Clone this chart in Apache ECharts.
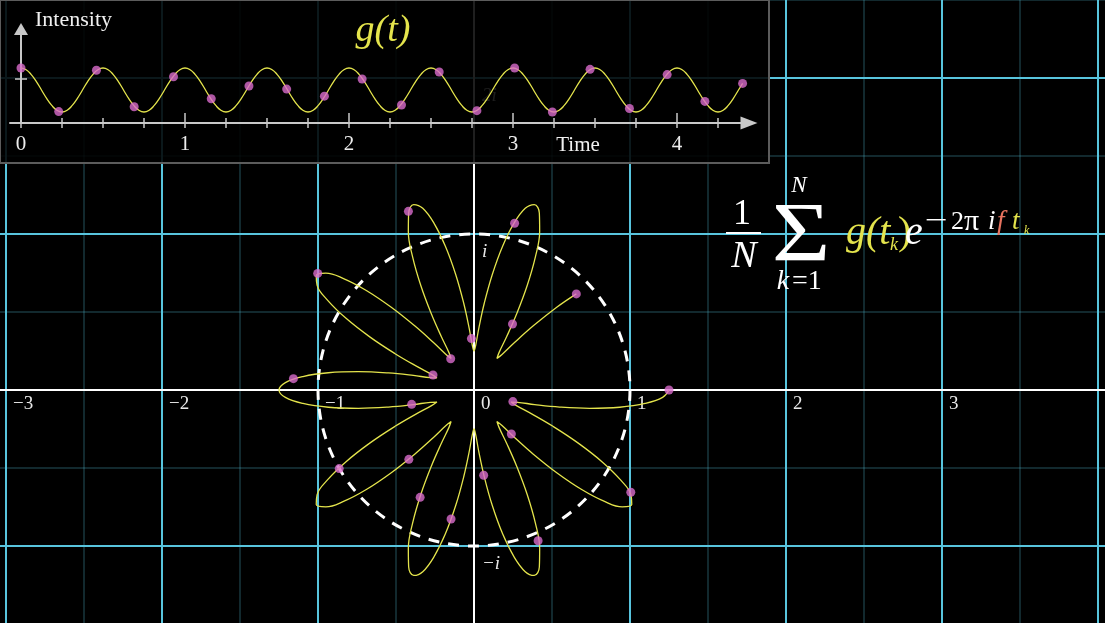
<!DOCTYPE html>
<html><head><meta charset="utf-8">
<script src="https://cdn.jsdelivr.net/npm/echarts@6.0.0/dist/echarts.min.js"></script>
<style>html,body{margin:0;padding:0;background:#000}#c{width:1105px;height:623px}</style>
</head><body><div id="c"></div><script>
// ---------- data ----------
// sample instants t_k (seconds) and sampled intensity g(t_k)
const sampleTimes  = [0, 0.23, 0.46, 0.69, 0.93, 1.16, 1.39, 1.62, 1.85, 2.08, 2.32, 2.55, 2.78, 3.01, 3.24, 3.47, 3.71, 3.94, 4.17, 4.40];
const sampleValues = [1.25, 0.26, 1.20, 0.37, 1.05, 0.55, 0.84, 0.77, 0.61, 1.00, 0.41, 1.16, 0.28, 1.25, 0.25, 1.22, 0.33, 1.10, 0.49, 0.90];
// points read along the continuous signal g(t)
const curveTimes = [
  0, 0.03125, 0.0625, 0.09375, 0.125, 0.15625, 0.1875, 0.21875, 0.25, 0.28125, 0.3125, 0.34375, 0.375, 0.40625, 0.4375, 0.46875,
  0.5, 0.53125, 0.5625, 0.59375, 0.625, 0.65625, 0.6875, 0.71875, 0.75, 0.78125, 0.8125, 0.84375, 0.875, 0.90625, 0.9375, 0.96875,
  1, 1.03125, 1.0625, 1.09375, 1.125, 1.15625, 1.1875, 1.21875, 1.25, 1.28125, 1.3125, 1.34375, 1.375, 1.40625, 1.4375, 1.46875,
  1.5, 1.53125, 1.5625, 1.59375, 1.625, 1.65625, 1.6875, 1.71875, 1.75, 1.78125, 1.8125, 1.84375, 1.875, 1.90625, 1.9375, 1.96875,
  2, 2.03125, 2.0625, 2.09375, 2.125, 2.15625, 2.1875, 2.21875, 2.25, 2.28125, 2.3125, 2.34375, 2.375, 2.40625, 2.4375, 2.46875,
  2.5, 2.53125, 2.5625, 2.59375, 2.625, 2.65625, 2.6875, 2.71875, 2.75, 2.78125, 2.8125, 2.84375, 2.875, 2.90625, 2.9375, 2.96875,
  3, 3.03125, 3.0625, 3.09375, 3.125, 3.15625, 3.1875, 3.21875, 3.25, 3.28125, 3.3125, 3.34375, 3.375, 3.40625, 3.4375, 3.46875,
  3.5, 3.53125, 3.5625, 3.59375, 3.625, 3.65625, 3.6875, 3.71875, 3.75, 3.78125, 3.8125, 3.84375, 3.875, 3.90625, 3.9375, 3.96875,
  4, 4.03125, 4.0625, 4.09375, 4.125, 4.15625, 4.1875, 4.21875, 4.25, 4.28125, 4.3125, 4.34375, 4.375, 4.4];
const curveValues = [
  1.25, 1.21, 1.10, 0.94, 0.75, 0.56, 0.40, 0.29, 0.25, 0.29, 0.40, 0.56, 0.75, 0.94, 1.10, 1.21,
  1.25, 1.21, 1.10, 0.94, 0.75, 0.56, 0.40, 0.29, 0.25, 0.29, 0.40, 0.56, 0.75, 0.94, 1.10, 1.21,
  1.25, 1.21, 1.10, 0.94, 0.75, 0.56, 0.40, 0.29, 0.25, 0.29, 0.40, 0.56, 0.75, 0.94, 1.10, 1.21,
  1.25, 1.21, 1.10, 0.94, 0.75, 0.56, 0.40, 0.29, 0.25, 0.29, 0.40, 0.56, 0.75, 0.94, 1.10, 1.21,
  1.25, 1.21, 1.10, 0.94, 0.75, 0.56, 0.40, 0.29, 0.25, 0.29, 0.40, 0.56, 0.75, 0.94, 1.10, 1.21,
  1.25, 1.21, 1.10, 0.94, 0.75, 0.56, 0.40, 0.29, 0.25, 0.29, 0.40, 0.56, 0.75, 0.94, 1.10, 1.21,
  1.25, 1.21, 1.10, 0.94, 0.75, 0.56, 0.40, 0.29, 0.25, 0.29, 0.40, 0.56, 0.75, 0.94, 1.10, 1.21,
  1.25, 1.21, 1.10, 0.94, 0.75, 0.56, 0.40, 0.29, 0.25, 0.29, 0.40, 0.56, 0.75, 0.94, 1.10, 1.21,
  1.25, 1.21, 1.10, 0.94, 0.75, 0.56, 0.40, 0.29, 0.25, 0.29, 0.40, 0.56, 0.75, 0.90];
const windingPeriod = 5;              // seconds per full turn (f = 0.2)
const planeXTicks = [-3, -2, -1, 0, 1, 2, 3];
const planeYTicks = [2, 1, -1];
const planeYTickText = ['2i', 'i', '\u2212i'];
const timeTicks = [0, 1, 2, 3, 4];

// ---------- styles ----------
const FONT = '"Liberation Serif", "DejaVu Serif", serif';
const CYAN = '#58C4DD';
const DIM = 'rgba(88,196,221,0.28)';
const YELLOW = '#E4E44C';
const PINK = '#DA6BCC';
const AX = '#c8c8c8';
const T = 'rgba(0,0,0,0)';

const flowerData = curveTimes.map((t, i) => [curveValues[i], t]);
const flowerDots = sampleTimes.map((t, i) => [sampleValues[i], t]);
const insetCurve = curveTimes.map((t, i) => [t, curveValues[i]]);
const insetDots = sampleTimes.map((t, i) => [t, sampleValues[i]]);

const minus = v => (v < 0 ? '\u2212' + (-v) : String(v));

function txt(text, x, y, size, color, opts) {
  opts = opts || {};
  const el = {
    type: 'text', x: x, y: y, z: 20, silent: true,
    style: {
      text: text, fill: color,
      font: (opts.italic ? 'italic ' : '') + size + 'px ' + FONT,
      align: opts.align || 'left', textAlign: opts.align || 'left',
      verticalAlign: 'middle', textVerticalAlign: 'middle'
    }
  };
  if (opts.scaleX) el.scaleX = opts.scaleX;
  return el;
}

const chart = echarts.init(document.getElementById('c'), null, {renderer: 'canvas'});
const hideAll = {show: false};
chart.setOption({
  backgroundColor: '#000',
  animation: false,
  grid: [
    {left: -150, right: -149, top: -78, bottom: -79, outerBoundsMode: 'none', containLabel: false},
    {left: 10, top: 29, width: 739, height: 94, outerBoundsMode: 'none'},
    {left: 21, top: 35, width: 738, height: 88, outerBoundsMode: 'none'},
    {left: 21, top: 35, width: 697, height: 88, outerBoundsMode: 'none'},
    {left: 21, top: 35, width: 656, height: 88, outerBoundsMode: 'none'},
    {left: 21, top: 79, width: 100, height: 44, outerBoundsMode: 'none'},
    // label carriers for the complex plane
    {left: -143, width: 1404, top: -78, height: 468, outerBoundsMode: 'none'},
    {left: 474, width: 624, top: -70, height: 780, outerBoundsMode: 'none'}
  ],
  xAxis: [
    { gridIndex: 0, type: 'value', min: -4, max: 5, interval: 1, z: 1,
      axisLine: {show: true, onZero: true, lineStyle: {color: '#fff', width: 2}},
      axisTick: {show: false}, axisLabel: {show: false},
      splitLine: {show: true, lineStyle: {color: [CYAN, CYAN, CYAN, CYAN, T, CYAN, CYAN, CYAN, CYAN, CYAN], width: 2}},
      minorTick: {show: false, splitNumber: 2},
      minorSplitLine: {show: true, lineStyle: {color: DIM, width: 1.5}} },
    { gridIndex: 1, type: 'value', min: -11 / 164, max: 728 / 164, z: 6,
      axisLine: {show: true, onZero: true, symbol: ['none', 'triangle'], symbolSize: [13, 17], lineStyle: {color: AX, width: 2}},
      axisTick: hideAll, axisLabel: hideAll, splitLine: hideAll },
    { gridIndex: 2, type: 'value', min: 0, max: 4.5, show: false },
    { gridIndex: 3, type: 'value', min: 0, max: 4.25, interval: 0.25, offset: 5, z: 6,
      axisLine: {show: false, onZero: false},
      axisTick: {show: true, inside: true, length: 10, lineStyle: {color: AX, width: 1.5}},
      axisLabel: hideAll, splitLine: hideAll },
    { gridIndex: 4, type: 'value', min: 0, max: 4, interval: 1, offset: 5, z: 6,
      axisLine: {show: false, onZero: false},
      axisTick: {show: true, inside: true, length: 15, lineStyle: {color: AX, width: 1.5}},
      axisLabel: {show: true, color: '#ececec', fontFamily: FONT, fontSize: 21, margin: 6,
        formatter: v => (timeTicks.indexOf(v) >= 0 ? String(v) : '')},
      splitLine: hideAll },
    { gridIndex: 5, type: 'value', min: 0, max: 1, show: false },
    { gridIndex: 6, type: 'value', min: -4, max: 5, interval: 1, z: 2, position: 'bottom',
      axisLine: {show: false, onZero: false}, axisTick: hideAll, splitLine: hideAll,
      axisLabel: {show: true, color: '#e8e8e8', fontFamily: FONT, fontSize: 19, align: 'left', margin: 5,
        formatter: v => (planeXTicks.indexOf(v) >= 0 ? minus(v) : '')} },
    { gridIndex: 7, type: 'value', min: 0, max: 1, show: false }
  ],
  yAxis: [
    { gridIndex: 0, type: 'value', min: -2, max: 3, interval: 1, z: 0,
      axisLine: {show: true, onZero: true, lineStyle: {color: '#fff', width: 2}},
      axisTick: {show: false}, axisLabel: {show: false},
      splitLine: {show: true, lineStyle: {color: [CYAN, CYAN, T, CYAN, CYAN, CYAN], width: 2}},
      minorTick: {show: false, splitNumber: 2},
      minorSplitLine: {show: true, lineStyle: {color: DIM, width: 1.5}} },
    { gridIndex: 1, type: 'value', min: 0, max: 94 / 44, z: 6,
      axisLine: {show: true, onZero: true, symbol: ['none', 'triangle'], symbolSize: [14, 12], lineStyle: {color: AX, width: 2}},
      axisTick: hideAll, axisLabel: hideAll, splitLine: hideAll },
    { gridIndex: 2, type: 'value', min: 0, max: 2, show: false },
    { gridIndex: 3, type: 'value', min: 0, max: 1, show: false },
    { gridIndex: 4, type: 'value', min: 0, max: 1, show: false },
    { gridIndex: 5, type: 'value', min: 0, max: 1, interval: 1, offset: -6, z: 6,
      axisLine: {show: false, onZero: false},
      axisTick: {show: true, length: 12, lineStyle: {color: AX, width: 1.5}},
      axisLabel: hideAll, splitLine: hideAll },
    { gridIndex: 6, type: 'value', min: 0, max: 1, show: false },
    { gridIndex: 7, type: 'value', min: -2, max: 3, interval: 1, z: 2, position: 'left',
      axisLine: {show: false, onZero: false}, axisTick: hideAll, splitLine: hideAll,
      axisLabel: {show: true, inside: true, color: '#e8e8e8', fontFamily: FONT, fontSize: 19, fontStyle: 'italic',
        margin: 8, verticalAlign: 'top',
        formatter: v => { const i = planeYTicks.indexOf(v); return i >= 0 ? planeYTickText[i] : ''; }} }
  ],
  polar: [
    {center: [474, 390], radius: 1.3 * 156},
    {center: [474, 390], radius: 156}
  ],
  angleAxis: [
    {polarIndex: 0, type: 'value', min: 0, max: windingPeriod, startAngle: 0, clockwise: true, show: false},
    {polarIndex: 1, type: 'value', min: 0, max: 1, startAngle: 0, clockwise: true, z: 1,
      axisLine: {show: true, lineStyle: {color: '#fff', width: 3, type: [11, 9]}},
      axisTick: hideAll, axisLabel: hideAll, splitLine: hideAll, splitArea: hideAll}
  ],
  radiusAxis: [
    {polarIndex: 0, type: 'value', min: 0, max: 1.3, show: false},
    {polarIndex: 1, type: 'value', min: 0, max: 1, show: false}
  ],
  series: [
    { type: 'line', coordinateSystem: 'polar', polarIndex: 0, data: flowerData, smooth: 0.4,
      showSymbol: false, clip: false, z: 3, lineStyle: {color: YELLOW, width: 1.3}, silent: true },
    { type: 'scatter', coordinateSystem: 'polar', polarIndex: 0, data: flowerDots, symbolSize: 9,
      z: 4, itemStyle: {color: PINK}, silent: true },
    { type: 'line', xAxisIndex: 2, yAxisIndex: 2, data: insetCurve, smooth: true, showSymbol: false,
      clip: false, z: 7, lineStyle: {color: YELLOW, width: 1.3}, silent: true },
    { type: 'scatter', xAxisIndex: 2, yAxisIndex: 2, data: insetDots, symbolSize: 9, z: 8,
      itemStyle: {color: PINK}, silent: true }
  ],
  graphic: {elements: [
    {type: 'rect', z: 5, silent: true, shape: {x: 0, y: 0, width: 769, height: 163},
      style: {fill: 'rgba(0,0,0,0.88)', stroke: '#5c5c5c', lineWidth: 2}},
    txt('Intensity', 35, 20, 22, '#f0f0f0'),
    txt('g(t)', 383, 31, 38, YELLOW, {italic: true, align: 'center'}),
    txt('Time', 578, 145, 21, '#f0f0f0', {align: 'center'}),
    // formula
    txt('1', 742, 215, 36, '#fff', {align: 'center'}),
    {type: 'line', z: 20, silent: true, shape: {x1: 726, y1: 233, x2: 761, y2: 233}, style: {stroke: '#fff', lineWidth: 2}},
    txt('N', 744, 257, 38, '#fff', {align: 'center', italic: true}),
    txt('\u03A3', 801, 239, 84, '#fff', {align: 'center', scaleX: 1.2}),
    txt('N', 799, 186, 23, '#fff', {align: 'center', italic: true}),
    txt('k', 783, 282, 28, '#fff', {align: 'center', italic: true}),
    txt('=1', 792, 282, 28, '#fff'),
    txt('g(t', 846, 233, 40, YELLOW, {italic: true}),
    txt('k', 890, 245, 18, YELLOW, {italic: true}),
    txt(')', 898, 233, 40, YELLOW),
    txt('e', 905, 233, 40, '#fff', {italic: true}),
    txt('\u2212', 925, 222, 28, '#fff', {scaleX: 1.45}),
    txt('2', 951, 222, 26, '#fff'),
    txt('\u03C0', 964, 222, 30, '#fff'),
    txt('i', 988, 222, 27, '#fff', {italic: true}),
    txt('f', 997, 222, 27, '#E8735F', {italic: true}),
    txt('t', 1012, 222, 27, YELLOW, {italic: true}),
    txt('k', 1024, 231, 12, YELLOW, {italic: true})
  ]}
});
</script></body></html>
